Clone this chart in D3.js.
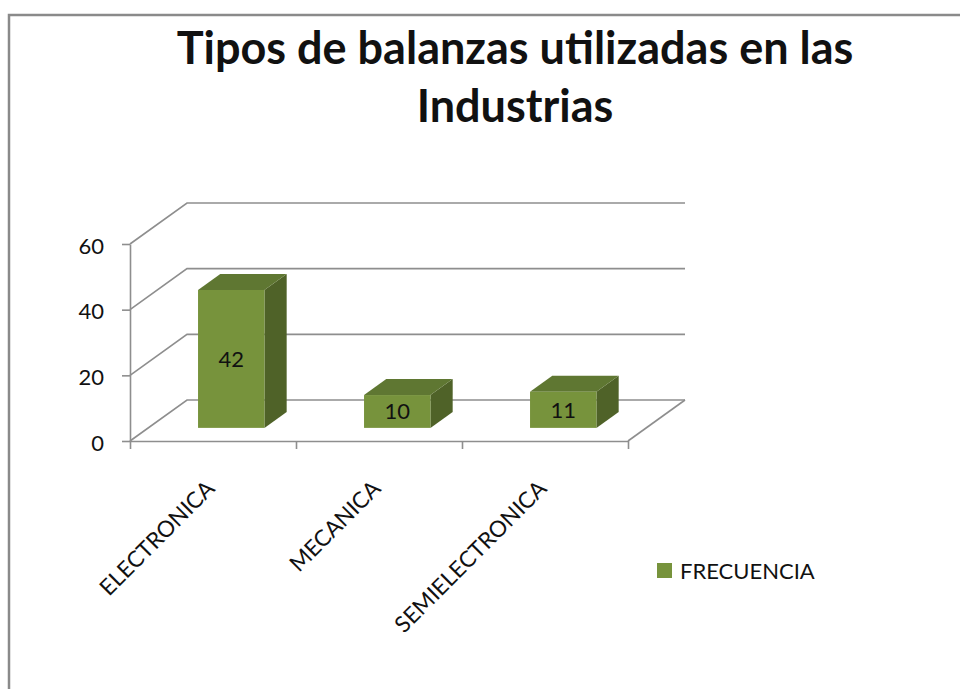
<!DOCTYPE html>
<html lang="es">
<head>
  <meta charset="UTF-8">
  <title>Tipos de balanzas</title>
  <script src="https://d3js.org/d3.v7.min.js"></script>
  <style>
    body { margin: 0; background: #fff; }
    text { font-family: Lato, "Open Sans", sans-serif; fill: #111; }
    .grid { fill: none; stroke: #8e8e8e; stroke-width: 1.6; }
    .axis path, .axis line { stroke: #8e8e8e; stroke-width: 1.6; }
  </style>
</head>
<body>
  <script>
    // datos
    const categorias = ["ELECTRONICA", "MECANICA", "SEMIELECTRONICA"];
    const frecuencia = [42, 10, 11];
    const yTicks = [0, 20, 40, 60];
    const titulo = ["Tipos de balanzas utilizadas en las", "Industrias"];
    const serie = "FRECUENCIA";

    const W = 960, H = 689;
    const depth = {dx: 57, dy: -41};   // fondo 3d
    const z0 = 0.32, z1 = 0.71;        // profundidad de las barras

    const colFront = "#77933c", colTop = "#5f7732", colSide = "#4f6228";

    const svg = d3.select("body").append("svg")
      .attr("width", W).attr("height", H);

    // marco
    svg.append("rect")
      .attr("x", 9).attr("y", 15)
      .attr("width", W + 20).attr("height", H + 20)
      .attr("fill", "none").attr("stroke", "#8a8a8a").attr("stroke-width", 2.5);

    // titulo
    svg.append("text")
      .attr("x", 515).attr("y", 64)
      .attr("text-anchor", "middle")
      .style("font-size", "45px").style("font-weight", "bold")
      .selectAll("tspan")
      .data(titulo)
      .enter().append("tspan")
        .attr("x", 515)
        .attr("dy", (d, i) => i ? 58 : 0)
        .text(d => d);

    const x = d3.scaleBand().domain(categorias).range([130, 628]);
    const y = d3.scaleLinear().domain([0, 60]).range([441, 244]);
    const xEdge = d3.scaleLinear().domain([0, categorias.length]).range([130, 628]);

    const P = (px, v, z) => [px + z * depth.dx, y(v) + z * depth.dy];
    const line = d3.line();

    // paredes / cuadricula
    const xEnd = 628 + depth.dx;
    svg.append("g").selectAll("path")
      .data(yTicks)
      .enter().append("path")
        .attr("class", "grid")
        .attr("d", v => line([P(130, v, 0), P(130, v, 1), [xEnd, y(v) + depth.dy]]));

    // borde derecho del piso
    svg.append("path")
      .attr("class", "grid")
      .attr("d", line([P(628, 0, 0), P(628, 0, 1)]));

    // ejes
    svg.append("g")
      .attr("class", "axis")
      .attr("transform", "translate(130,0)")
      .call(d3.axisLeft(y).tickValues(yTicks).tickSize(8).tickSizeOuter(0).tickPadding(18))
      .call(g => g.selectAll("text").style("font-size", "22px").attr("dy", "0.42em")
        .attr("font-family", null).style("fill", "#111"));

    svg.append("g")
      .attr("class", "axis")
      .attr("transform", "translate(0,441)")
      .call(d3.axisBottom(xEdge).tickValues(d3.range(categorias.length + 1))
        .tickFormat("").tickSize(8).tickSizeOuter(0));

    // etiquetas de categoria
    svg.append("g").selectAll("text")
      .data(categorias)
      .enter().append("text")
        .attr("text-anchor", "end")
        .attr("transform", d => "translate(" + (x(d) + x.bandwidth() / 2 + 3) + ",490) rotate(-45)")
        .style("font-size", "22.5px")
        .text(d => d);

    // barras 3d
    const datos = categorias.map((c, i) => ({cat: c, val: frecuencia[i]}));
    const bw = x.bandwidth() * 0.4;
    const bars = svg.append("g").selectAll("g")
      .data(datos)
      .enter().append("g");

    bars.each(function(d) {
      const g = d3.select(this);
      const xl = x(d.cat) + (x.bandwidth() - bw) / 2, xr = xl + bw;
      const fl = P(xl, d.val, z0), fr = P(xr, d.val, z0);
      const fb = P(xr, 0, z0);
      const bl = P(xl, d.val, z1), br = P(xr, d.val, z1), bb = P(xr, 0, z1);
      g.append("path").attr("fill", colSide)
        .attr("d", line([fr, br, bb, fb]) + "Z");
      g.append("path").attr("fill", colTop)
        .attr("d", line([fl, bl, br, fr]) + "Z");
      g.append("rect").attr("fill", colFront)
        .attr("x", fl[0]).attr("y", fl[1])
        .attr("width", bw).attr("height", fb[1] - fl[1]);
      g.append("text")
        .attr("x", fl[0] + bw / 2).attr("y", (fl[1] + fb[1]) / 2)
        .attr("dy", "0.36em")
        .attr("text-anchor", "middle")
        .style("font-size", "22px")
        .text(d.val);
    });

    // leyenda
    const leg = svg.append("g").attr("transform", "translate(657,563)");
    leg.append("rect").attr("width", 15).attr("height", 15).attr("fill", colFront);
    leg.append("text").attr("x", 23).attr("y", 15.5).style("font-size", "22px").text(serie);
  </script>
</body>
</html>
